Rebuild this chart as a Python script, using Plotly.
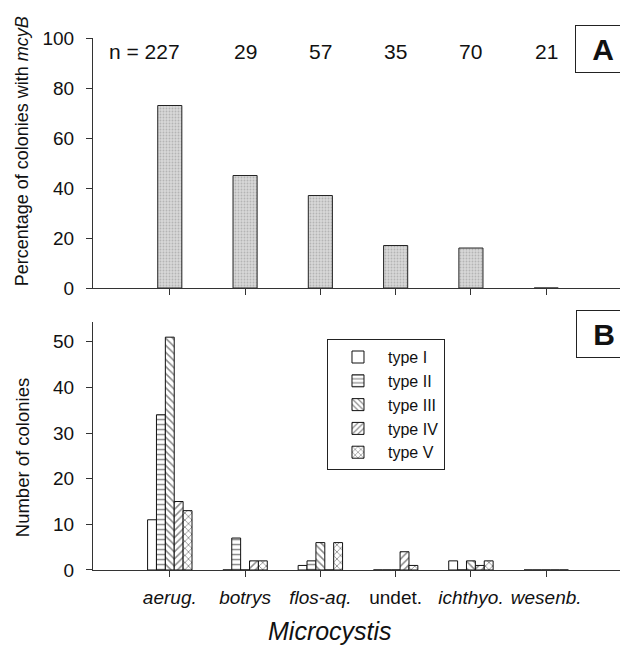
import plotly.graph_objects as go

# ---- data ----
species = ["aerug.", "botrys", "flos-aq.", "undet.", "ichthyo.", "wesenb."]
species_italic = [True, True, True, False, True, True]
n_colonies = [227, 29, 57, 35, 70, 21]
pct_mcyB = [73, 45, 37, 17, 16, 0]

type_names = ["type I", "type II", "type III", "type IV", "type V"]
type_I = [11, 0, 1, 0, 2, 0]
type_II = [34, 7, 2, 0, 0, 0]
type_III = [51, 0, 6, 0, 2, 0]
type_IV = [15, 2, 0, 4, 1, 0]
type_V = [13, 2, 6, 1, 2, 0]
type_values = [type_I, type_II, type_III, type_IV, type_V]
type_patterns = ["", "-", "\\", "/", "x"]

pct_ticks = [0, 20, 40, 60, 80, 100]
count_ticks = [0, 10, 20, 30, 40, 50]

FONT = "Arial, Liberation Sans, sans-serif"
pos = list(range(len(species)))
tickvals = pos + [len(species)]
ticktext = [("<i>%s</i>" % s if it else s) for s, it in zip(species, species_italic)] + [""]

fig = go.Figure()

# Panel A
fig.add_trace(go.Bar(
    x=pos, y=pct_mcyB, xaxis="x", yaxis="y", width=0.32, showlegend=False,
    marker=dict(color="#d0d0d0", line=dict(color="#222", width=1),
                pattern=dict(shape=".", fgcolor="#8f8f8f", bgcolor="#d8d8d8", size=3, solidity=0.3)),
))

# Panel B
for name, vals, pat in zip(type_names, type_values, type_patterns):
    fig.add_trace(go.Bar(
        x=pos, y=vals, name=name, xaxis="x2", yaxis="y2",
        marker=dict(color="white", line=dict(color="#111", width=1),
                    pattern=dict(shape=pat, fgcolor="#111", bgcolor="white", size=5, solidity=0.3)),
    ))

xr = [-1.02, 6.02]
common_x = dict(range=xr, showline=True, linecolor="#333", linewidth=1, ticks="outside",
                ticklen=6, tickcolor="#333", tickvals=tickvals, showgrid=False, zeroline=False)
common_y = dict(showline=True, linecolor="#333", linewidth=1, ticks="outside", ticklen=6,
                tickcolor="#333", showgrid=False, zeroline=False, ticklabelstandoff=8,
                tickfont=dict(size=19, color="#111", family=FONT))

# page body has an 8px margin, so the figure is offset by 8px; margins compensate
fig.update_layout(
    width=628, height=646,
    margin=dict(l=85, r=13, t=30, b=84),
    paper_bgcolor="white", plot_bgcolor="white",
    font=dict(family=FONT, color="#111"),
    barmode="group", bargap=0.41, bargroupgap=0,
    xaxis=dict(domain=[0, 1], anchor="y", showticklabels=False, **common_x),
    yaxis=dict(domain=[0.530, 1.0], anchor="x", range=[0, 100], tickvals=pct_ticks, **common_y),
    xaxis2=dict(domain=[0, 1], anchor="y2", showticklabels=True, ticktext=ticktext,
                ticklabelstandoff=4,
                tickfont=dict(size=19, color="#111", family=FONT), **common_x),
    yaxis2=dict(domain=[0, 0.466], anchor="x2", range=[0, 54.3], tickvals=count_ticks, **common_y),
    legend=dict(x=0.4415, y=0.434, xanchor="left", yanchor="top", bgcolor="white",
                bordercolor="#222", borderwidth=1, font=dict(size=16, family=FONT, color="#111"),
                tracegroupgap=0, itemwidth=50),
    showlegend=True,
)

# n labels
for i, n in enumerate(n_colonies):
    if i == 0:
        fig.add_annotation(x=i + 0.16, y=1.0, xref="x", yref="paper", yanchor="middle",
                           xanchor="right", yshift=-13, text="n = %d" % n, showarrow=False,
                           font=dict(size=21, family=FONT, color="#111"))
    else:
        fig.add_annotation(x=i, y=1.0, xref="x", yref="paper", yanchor="middle",
                           xanchor="center", yshift=-13, text="%d" % n, showarrow=False,
                           font=dict(size=21, family=FONT, color="#111"))

# Panel letters
for letter, yc, xc in [("A", 0.979, 0.962), ("B", 0.4445, 0.964)]:
    fig.add_annotation(x=xc, y=yc, xref="paper", yref="paper", xanchor="center", yanchor="middle",
                       text="<b>%s</b>" % letter,
                       showarrow=False, width=52, height=44, borderpad=1,
                       bordercolor="#222", borderwidth=1, bgcolor="white",
                       font=dict(size=30, family=FONT, color="#111"))

# Axis titles
fig.add_annotation(x=-0.134, y=0.787, xref="paper", yref="paper", textangle=-90,
                   xanchor="center", yanchor="middle",
                   text="Percentage of colonies with <i>mcyB</i>", showarrow=False,
                   font=dict(size=18, family=FONT, color="#111"))
fig.add_annotation(x=-0.134, y=0.212, xref="paper", yref="paper", textangle=-90,
                   xanchor="center", yanchor="middle",
                   text="Number of colonies", showarrow=False,
                   font=dict(size=18.5, family=FONT, color="#111"))
fig.add_annotation(x=0.447, y=-0.115, xref="paper", yref="paper",
                   xanchor="center", yanchor="middle",
                   text="<i>Microcystis</i>", showarrow=False,
                   font=dict(size=25, family=FONT, color="#111"))

fig.write_html("out.html")
